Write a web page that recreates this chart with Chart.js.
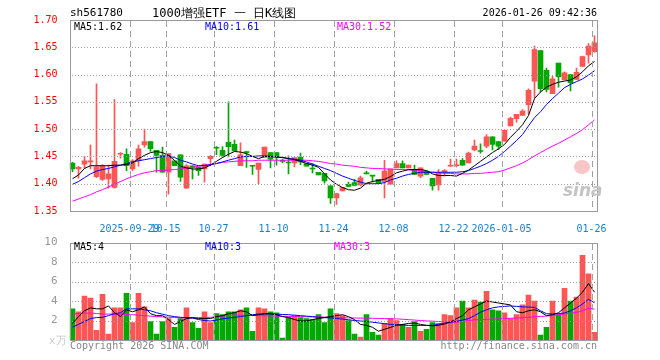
<!DOCTYPE html>
<html>
<head>
<meta charset="utf-8">
<script src="https://cdn.jsdelivr.net/npm/chart.js@4.4.1/dist/chart.umd.min.js"></script>
<style>
body { margin: 0; background: #fff; width: 660px; height: 360px; position: relative; overflow: hidden; font-family: 'DejaVu Sans Mono', monospace; }
canvas { position: absolute; left: 0; }
#kline { top: 0; }
#vol { top: 232px; }
.t { position: absolute; font-size: 10px; line-height: 12px; white-space: nowrap; color: #000; }
</style>
</head>
<body>
<canvas id="kline" width="660" height="232"></canvas>
<canvas id="vol" width="660" height="128"></canvas>

<div class="t" style="left:70px;top:7px;font-size:11px">sh561780</div>
<div class="t" style="left:152px;top:6px;font-size:12px;line-height:14px">1000增强ETF 一 日K线图</div>
<div class="t" style="right:63px;top:7px">2026-01-26 09:42:36</div>

<div class="t" style="left:74px;top:21px">MA5:1.62</div>
<div class="t" style="left:205px;top:21px;color:#0000ff">MA10:1.61</div>
<div class="t" style="left:337px;top:21px;color:#ff00ff">MA30:1.52</div>

<div class="t" style="left:74px;top:241px">MA5:4</div>
<div class="t" style="left:205px;top:241px;color:#0000ff">MA10:3</div>
<div class="t" style="left:334px;top:241px;color:#ff00ff">MA30:3</div>

<div class="t" style="left:49px;top:335px;color:#ccc;font-size:11px">x万</div>
<div class="t" style="left:70px;top:340px;color:#888">Copyright 2026 SINA.COM</div>
<div class="t" style="right:63px;top:340px;color:#888">http://finance.sina.com.cn</div>

<div style="position:absolute;left:574px;top:160px;width:16px;height:14px;border-radius:50%;background:#f4a0a0;opacity:0.6"></div>
<div class="t" style="left:563px;top:180px;font:italic bold 17px 'DejaVu Sans';color:#c4c4c4">sina</div>

<script>
// candles
var open  = [1.438,1.427,1.436,1.440,1.413,1.408,1.409,1.393,1.454,1.454, 1.427,1.442,1.471,1.477,1.461,1.452,1.421,1.442,1.453,1.392,
             1.433,1.430,1.427,1.446,1.466,1.461,1.476,1.472,1.433,1.459, 1.433,1.426,1.448,1.457,1.457,1.443,1.439,1.438,1.449,1.437,
             1.428,1.421,1.419,1.396,1.374,1.387,1.399,1.402,1.398,1.419, 1.415,1.408,1.404,1.399,1.429,1.437,1.429,1.426,1.414,1.423,
             1.410,1.398,1.422,1.432,1.433,1.443,1.438,1.462,1.460,1.469, 1.486,1.477,1.478,1.506,1.519,1.525,1.545,1.588,1.644,1.608,
             1.565,1.621,1.590,1.600,1.591,1.615,1.636,1.642];
var high  = [1.439,1.432,1.450,1.471,1.583,1.435,1.434,1.554,1.457,1.464, 1.444,1.471,1.500,1.477,1.461,1.467,1.455,1.442,1.453,1.435,
             1.433,1.430,1.436,1.452,1.468,1.468,1.550,1.480,1.475,1.459, 1.433,1.438,1.467,1.457,1.457,1.445,1.451,1.448,1.456,1.437,
             1.437,1.421,1.419,1.396,1.382,1.393,1.403,1.408,1.414,1.423, 1.415,1.408,1.443,1.427,1.442,1.442,1.434,1.434,1.429,1.423,
             1.410,1.426,1.426,1.445,1.445,1.446,1.458,1.480,1.473,1.490, 1.486,1.477,1.499,1.522,1.527,1.536,1.574,1.652,1.644,1.612,
             1.597,1.621,1.605,1.600,1.612,1.634,1.657,1.671];
var low   = [1.422,1.410,1.428,1.427,1.411,1.406,1.392,1.392,1.447,1.424, 1.424,1.432,1.467,1.459,1.421,1.421,1.381,1.433,1.404,1.392,
             1.409,1.415,1.403,1.433,1.453,1.449,1.449,1.460,1.433,1.430, 1.417,1.400,1.448,1.429,1.434,1.438,1.418,1.431,1.435,1.432,
             1.420,1.416,1.401,1.364,1.362,1.387,1.394,1.397,1.396,1.418, 1.403,1.401,1.374,1.399,1.429,1.429,1.429,1.417,1.411,1.417,
             1.388,1.388,1.414,1.432,1.431,1.434,1.438,1.460,1.456,1.466, 1.462,1.463,1.478,1.506,1.513,1.525,1.527,1.557,1.568,1.568,
             1.565,1.577,1.590,1.570,1.591,1.615,1.621,1.641];
var close = [1.427,1.430,1.442,1.441,1.431,1.432,1.418,1.441,1.455,1.433, 1.442,1.464,1.477,1.464,1.452,1.421,1.455,1.433,1.412,1.433,
             1.430,1.424,1.436,1.450,1.465,1.452,1.468,1.460,1.453,1.457, 1.432,1.438,1.467,1.445,1.449,1.441,1.438,1.448,1.440,1.432,
             1.427,1.416,1.405,1.374,1.382,1.393,1.395,1.397,1.411,1.418, 1.414,1.401,1.423,1.427,1.437,1.429,1.434,1.417,1.429,1.417,
             1.396,1.420,1.424,1.433,1.434,1.434,1.456,1.469,1.459,1.486, 1.472,1.469,1.498,1.520,1.527,1.533,1.571,1.646,1.574,1.573,
             1.592,1.596,1.603,1.585,1.604,1.633,1.652,1.658];

// moving average lines as drawn
var ma5  = [1.409,1.416,1.428,1.433,1.433,1.433,1.433,1.434,1.434,1.435, 1.438,1.446,1.452,1.457,1.459,1.457,1.452,1.443,1.432,1.429,
            1.427,1.427,1.429,1.434,1.441,1.448,1.454,1.459,1.458,1.455, 1.450,1.446,1.450,1.450,1.449,1.448,1.446,1.444,1.441,1.437,
            1.434,1.430,1.418,1.407,1.399,1.393,1.389,1.388,1.392,1.401, 1.404,1.406,1.408,1.413,1.420,1.423,1.426,1.426,1.426,1.424,
            1.418,1.415,1.415,1.415,1.414,1.419,1.425,1.433,1.441,1.449, 1.457,1.464,1.472,1.485,1.496,1.508,1.525,1.556,1.568,1.577,
            1.582,1.586,1.588,1.590,1.596,1.605,1.616,1.624];
var ma10 = [1.399,1.404,1.411,1.418,1.423,1.426,1.428,1.431,1.434,1.437, 1.440,1.442,1.444,1.446,1.448,1.450,1.451,1.448,1.443,1.440,
            1.436,1.433,1.433,1.435,1.437,1.440,1.443,1.446,1.449,1.450, 1.450,1.451,1.451,1.450,1.449,1.448,1.446,1.445,1.443,1.440,
            1.436,1.432,1.428,1.424,1.419,1.414,1.410,1.406,1.403,1.400, 1.400,1.400,1.402,1.407,1.410,1.414,1.417,1.419,1.421,1.421,
            1.421,1.421,1.421,1.421,1.421,1.422,1.424,1.428,1.432,1.437, 1.443,1.450,1.459,1.469,1.479,1.490,1.506,1.521,1.532,1.545,
            1.556,1.566,1.576,1.582,1.587,1.592,1.599,1.607];
var ma30 = [1.368,1.372,1.376,1.380,1.385,1.389,1.394,1.399,1.404,1.409, 1.413,1.417,1.420,1.422,1.424,1.424,1.425,1.426,1.427,1.429,
            1.430,1.432,1.434,1.435,1.437,1.439,1.440,1.441,1.442,1.442, 1.442,1.443,1.443,1.443,1.443,1.443,1.443,1.443,1.443,1.443,
            1.442,1.441,1.439,1.437,1.436,1.434,1.433,1.432,1.430,1.429, 1.428,1.428,1.427,1.427,1.426,1.426,1.425,1.425,1.424,1.422,
            1.421,1.420,1.419,1.419,1.418,1.418,1.418,1.419,1.419,1.420, 1.421,1.422,1.425,1.429,1.433,1.438,1.444,1.451,1.457,1.463,
            1.469,1.474,1.480,1.486,1.492,1.499,1.508,1.517];

// volume (x万) and its averages
var volume = [3.2,2.9,4.5,4.3,1.0,4.7,0.6,3.3,3.3,4.8, 1.8,4.8,3.4,1.9,0.6,1.9,2.2,1.3,2.2,3.3,
              1.8,1.2,2.9,1.8,2.7,2.6,2.9,2.9,3.1,3.3, 0.9,3.3,3.2,2.9,2.8,0.2,2.3,2.5,2.3,2.2,
              2.1,2.6,1.8,3.2,2.7,2.5,2.0,0.6,0.3,2.6, 0.8,0.5,1.7,2.2,2.0,1.6,1.3,1.9,0.9,1.1,
              1.8,1.7,2.6,2.5,3.3,4.0,3.3,4.1,3.9,5.0, 3.1,3.0,2.8,2.2,2.6,3.6,4.6,4.0,0.5,1.3,
              4.0,2.6,5.3,4.0,4.4,8.7,6.8,0.8];
var vma5  = [1.7,2.4,3.0,3.3,3.2,3.2,3.5,2.8,2.4,3.1, 2.9,3.1,3.4,2.7,2.5,2.5,2.1,1.6,1.9,2.2,
             2.3,2.2,2.2,2.2,2.4,2.5,2.7,2.8,3.0,2.9, 2.5,2.6,2.7,2.7,2.6,2.4,2.3,2.1,1.95,1.95,
             2.1,2.2,2.3,2.4,2.5,2.6,2.4,2.1,1.6,1.5, 1.3,0.9,1.1,1.3,1.5,1.6,1.7,1.75,1.6,1.5,
             1.45,1.5,1.65,1.85,2.2,2.5,3.1,3.4,3.7,4.0, 3.9,3.8,3.7,3.6,2.9,2.8,3.0,3.1,2.9,2.5,
             2.6,2.8,3.3,3.8,4.3,4.9,5.8,4.9];
var vma10 = [1.33,1.6,1.9,2.2,2.3,2.33,2.5,2.7,2.8,3.2, 3.2,3.2,3.1,3.0,2.8,2.65,2.5,2.4,2.33,2.3,
             2.25,2.1,2.0,1.95,2.05,2.17,2.25,2.33,2.4,2.5, 2.6,2.67,2.67,2.67,2.65,2.62,2.6,2.55,2.5,2.45,
             2.4,2.33,2.3,2.27,2.2,2.15,2.08,2.0,1.95,1.9, 1.83,1.75,1.68,1.6,1.57,1.53,1.5,1.5,1.5,1.5,
             1.5,1.62,1.72,1.82,1.92,2.05,2.2,2.5,2.85,3.1, 3.3,3.4,3.45,3.5,3.45,3.4,3.38,3.35,3.0,2.7,
             2.67,2.72,2.77,3.0,3.3,3.7,4.17,3.83];
var vma30 = [2.67,2.72,2.76,2.77,2.72,2.67,2.66,2.65,2.64,2.62, 2.6,2.55,2.5,2.45,2.4,2.37,2.34,2.31,2.28,2.27,
             2.28,2.3,2.31,2.33,2.38,2.45,2.52,2.57,2.55,2.53, 2.52,2.5,2.48,2.47,2.45,2.43,2.42,2.41,2.4,2.38,
             2.37,2.36,2.35,2.33,2.31,2.29,2.27,2.26,2.25,2.24, 2.23,2.21,2.2,2.18,2.17,2.13,2.09,2.05,2.0,1.96,
             1.93,1.9,1.87,1.85,1.83,1.9,2.0,2.07,2.1,2.12, 2.15,2.17,2.2,2.23,2.26,2.29,2.33,2.38,2.42,2.46,
             2.5,2.6,2.67,2.75,2.83,3.0,3.27,3.17];

// date ticks: bar index -> label
var tickIdx  = [10, 16, 24, 34, 44, 54, 64, 72, 87];
var tickText = ['2025-09-29', '10-15', '10-27', '11-10', '11-24', '12-08', '12-22', '2026-01-05', '01-26'];

var days = open.map(function (_, i) { return i; });
var RED = '#ff5555', GREEN = '#00a800';
var colors = close.map(function (c, i) { return c >= open[i] ? RED : GREEN; });
var mono = { family: 'DejaVu Sans Mono', size: 10 };

// grid + frame, laid last in plain source-over, positions from the chart's scales
var frame = {
  id: 'frame',
  afterDraw: function (chart) {
    var a = chart.chartArea, ctx = chart.ctx, xs = chart.scales.x, ys = chart.scales.y;
    var l = Math.round(a.left), r = Math.round(a.right), t = Math.round(a.top), b = Math.round(a.bottom);
    ctx.save();
    ctx.globalCompositeOperation = 'source-over';
    ctx.globalAlpha = 1;
    ctx.fillStyle = '#a0a0a0';
    ys.ticks.forEach(function (tk) {
      if (tk.value <= ys.min + 1e-6 || tk.value >= ys.max - 1e-6) return;
      var py = Math.round(ys.getPixelForValue(tk.value));
      for (var x = l + 2; x < r; x += 3) ctx.fillRect(x, py, 1, 1);
    });
    tickIdx.forEach(function (i) {
      var px = Math.round(xs.getPixelForValue(i) - 2.5);
      for (var y = t + 1; y < b; y += 10) ctx.fillRect(px, y, 1, Math.min(6, b - y));
    });
    ctx.strokeStyle = '#999';
    ctx.lineWidth = 1;
    ctx.strokeRect(l + 0.5, t + 0.5, r - l - 1, b - t);
    ctx.restore();
  }
};

function dateAxis(showLabels) {
  return {
    type: 'category',
    offset: true,
    afterFit: function (s) { s.height = showLabels ? 21 : 20; },
    grid: { display: false },
    border: { display: false },
    ticks: {
      display: showLabels, autoSkip: false, maxRotation: 0, padding: 4, labelOffset: -3,
      color: '#1a80cc', font: mono,
      callback: function (v, i) { var k = tickIdx.indexOf(i); return k < 0 ? null : tickText[k]; }
    }
  };
}

function line(data, color) {
  return { type: 'line', data: data, borderColor: color, borderWidth: 1, pointRadius: 0, tension: 0, order: 1 };
}

new Chart(document.getElementById('kline'), {
  type: 'bar',
  data: {
    labels: days,
    datasets: [
      { data: low.map(function (l, i) { return [l, high[i]]; }), backgroundColor: colors, barThickness: 1, grouped: false, order: 3 },
      { data: open.map(function (o, i) { return [o, close[i]]; }), backgroundColor: colors, barThickness: 5, minBarLength: 1, grouped: false, order: 2 },
      line(ma5, '#000000'),
      line(ma10, '#0000ff'),
      line(ma30, '#ff00ff')
    ]
  },
  options: {
    responsive: false, animation: false, events: [],
    layout: { padding: { top: 20, right: 62.5, left: 0, bottom: 0 } },
    plugins: { legend: { display: false }, tooltip: { enabled: false } },
    scales: {
      x: dateAxis(true),
      y: {
        min: 1.35, max: 1.70,
        afterFit: function (s) { s.width = 69.5; },
        grid: { display: false },
        border: { display: false },
        ticks: { stepSize: 0.05, padding: 4, color: '#ff0000', font: mono, callback: function (v) { return v.toFixed(2); } }
      }
    }
  },
  plugins: [frame]
});

new Chart(document.getElementById('vol'), {
  type: 'bar',
  data: {
    labels: days,
    datasets: [
      { data: volume, backgroundColor: colors, barThickness: 5, grouped: false, order: 2 },
      line(vma5, '#000000'),
      line(vma10, '#0000ff'),
      line(vma30, '#ff00ff')
    ]
  },
  options: {
    responsive: false, animation: false, events: [],
    layout: { padding: { top: 8, right: 62.5, left: 0, bottom: 0 } },
    plugins: { legend: { display: false }, tooltip: { enabled: false } },
    scales: {
      x: dateAxis(false),
      y: {
        min: 0, max: 10,
        afterFit: function (s) { s.width = 69.5; },
        grid: { display: false },
        border: { display: false },
        ticks: { stepSize: 2, padding: 4, color: '#999', font: { family: 'DejaVu Sans Mono', size: 11 },
                 callback: function (v) { return v === 0 ? null : v; } }
      }
    }
  },
  plugins: [frame]
});
</script>
</body>
</html>
